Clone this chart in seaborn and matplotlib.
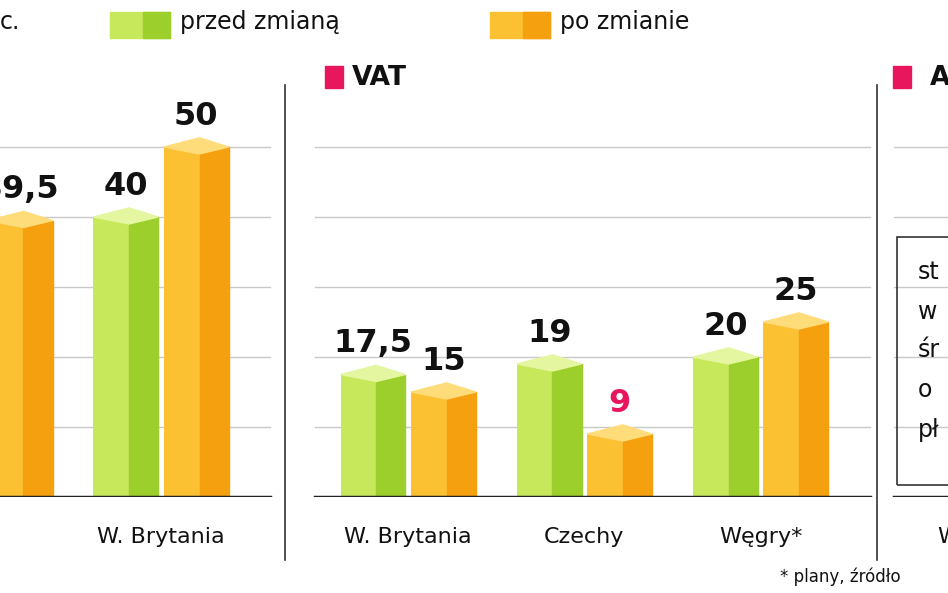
import matplotlib
matplotlib.use("Agg")
import matplotlib.pyplot as plt
from matplotlib.patches import Rectangle, Polygon
import seaborn as sns
import pandas as pd

series = ["przed zmianą", "po zmianie"]
left_cats = ["A*", "W. Brytania"]
left_before = [None, 40]
left_after = [39.5, 50]
mid_cats = ["W. Brytania", "Czechy", "Węgry*"]
mid_before = [17.5, 19, 20]
mid_after = [15, 9, 25]
right_cats = ["W"]

LIGHT = {"przed zmianą": "#c6e85a", "po zmianie": "#fcc033"}
DARK = {"przed zmianą": "#9ccf2c", "po zmianie": "#f5a00f"}
TOP = {"przed zmianą": "#e4f6a0", "po zmianie": "#ffdc7a"}
PINK = "#e8175d"

W, H = 948, 593
fig = plt.figure(figsize=(9.48, 5.93), dpi=100)
yb = (H - 497) / H
yh = 497 / H
YMAX = 71

def fmt(v):
    return f"{v:g}".replace(".", ",")

def panel(x0, x1, cats, before, after, xlim, grid_span, pink_idx=None):
    ax = fig.add_axes([x0 / W, yb, (x1 - x0) / W, yh])
    rows = []
    for c, b, a in zip(cats, before, after):
        rows.append((c, series[0], b if b is not None else 0))
        rows.append((c, series[1], a if a is not None else 0))
    df = pd.DataFrame(rows, columns=["cat", "ser", "val"])
    for g in range(10, 60, 10):
        ax.plot(grid_span, [g, g], color="#c8c8c8", lw=1, zorder=0)
    ax.plot(grid_span, [0, 0], color="#222222", lw=2.5, zorder=5)
    sns.barplot(data=df, x="cat", y="val", hue="ser", hue_order=series,
                palette=LIGHT, saturation=1, width=0.8, gap=0.08, legend=False,
                ax=ax, edgecolor="none", zorder=2)
    patches = [p for p in ax.patches if isinstance(p, Rectangle)]
    idx = 0
    for si, ser in enumerate(series):
        vals = before if si == 0 else after
        for ci, v in enumerate(vals):
            p = patches[idx]; idx += 1
            if v is None or v == 0:
                p.set_visible(False)
                continue
            x, w, h = p.get_x(), p.get_width(), p.get_height()
            ax.add_patch(Rectangle((x + w * 0.55, 0), w * 0.45, h,
                                   color=DARK[ser], zorder=3))
            ax.add_patch(Polygon([(x, h), (x + w * 0.55, h + 1.3),
                                  (x + w, h), (x + w * 0.55, h - 1.0)],
                                 closed=True, color=TOP[ser], zorder=4))
            col = PINK if (pink_idx == (si, ci)) else "#111111"
            ax.text(x + w / 2, h + 2.2, fmt(v), ha="center", va="bottom",
                    fontsize=23, fontweight="bold", color=col, zorder=6)
    ax.set_xlim(*xlim)
    ax.set_ylim(0, YMAX)
    ax.axis("off")
    for i, c in enumerate(cats):
        ax.text(i, -5.7, c, ha="center", va="center", fontsize=16,
                color="#111111", clip_on=False)
    return ax

panel(0, 285, left_cats, left_before, left_after, (0.085, 1.704), (0.0, 1.62))
panel(285, 875, mid_cats, mid_before, mid_after, (-0.70, 2.65), (-0.53, 2.62),
      pink_idx=(1, 1))
axr = fig.add_axes([875 / W, yb, 73 / W, yh])
axr.set_xlim(-0.71, -0.29); axr.set_ylim(0, YMAX); axr.axis("off")
for g in range(10, 60, 10):
    axr.plot([-0.6, -0.29], [g, g], color="#c8c8c8", lw=1, zorder=0)
axr.plot([-0.6, -0.29], [0, 0], color="#222222", lw=2.5)
axr.text(-0.35, -5.7, right_cats[0], ha="left", va="center", fontsize=16,
         color="#111111", clip_on=False)

for xp in (285, 877):
    fig.add_artist(plt.Line2D([xp / W, xp / W], [(H - 560) / H, (H - 85) / H],
                              color="#333333", lw=1.2))

for xs, lab, ser in ((110, "przed zmianą", series[0]), (490, "po zmianie", series[1])):
    fig.add_artist(Rectangle((xs / W, (H - 38) / H), 60 / W, 26 / H,
                             color=LIGHT[ser], transform=fig.transFigure))
    fig.add_artist(Rectangle(((xs + 33) / W, (H - 38) / H), 27 / W, 26 / H,
                             color=DARK[ser], transform=fig.transFigure))
    fig.text((xs + 70) / W, (H - 22) / H, lab, fontsize=17, va="center",
             color="#111111")
fig.text(0 / W, (H - 22) / H, "c.", fontsize=17, va="center", color="#111111")

fig.add_artist(Rectangle((325 / W, (H - 88) / H), 18 / W, 22 / H,
                         color=PINK, transform=fig.transFigure))
fig.text(352 / W, (H - 78) / H, "VAT", fontsize=19, fontweight="bold",
         va="center", color="#111111")
fig.add_artist(Rectangle((893 / W, (H - 88) / H), 18 / W, 22 / H,
                         color=PINK, transform=fig.transFigure))
fig.text(930 / W, (H - 78) / H, "A", fontsize=19, fontweight="bold",
         va="center", color="#111111")

fig.add_artist(Rectangle((897 / W, (H - 485) / H), 80 / W, 248 / H,
                         fill=False, ec="#333333", lw=1.2,
                         transform=fig.transFigure))
for t, yp in zip(["st", "w", "śr", "o", "pł"], [272, 312, 350, 390, 430]):
    fig.text(918 / W, (H - yp) / H, t, fontsize=17, va="center", color="#111111")

fig.text(780 / W, (H - 577) / H, "* plany, źródło", fontsize=12,
         va="center", color="#111111")

fig.savefig("out.png", dpi=100)
